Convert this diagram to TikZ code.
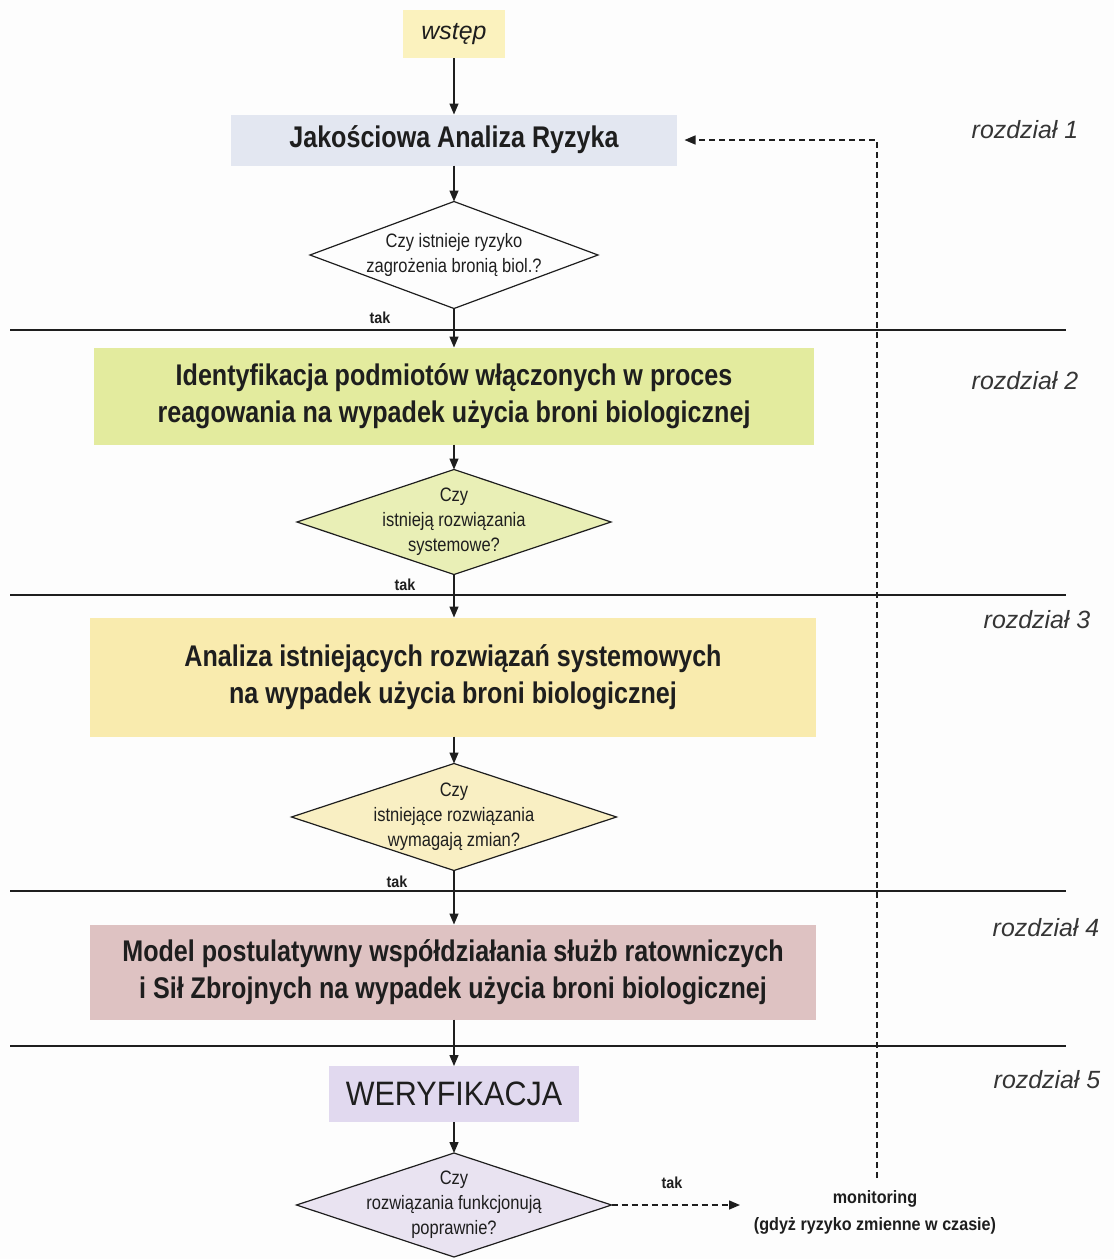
\documentclass[tikz,border=0pt]{standalone}
\usepackage{fontspec}
\setmainfont{Liberation Sans}
\newfontfamily\stagefont[FakeStretch=0.84]{Liberation Sans}
\newfontfamily\questfont[FakeStretch=0.85]{Liberation Sans}
\newfontfamily\notefont[FakeStretch=0.9]{Liberation Sans}
\usetikzlibrary{shapes.geometric,arrows.meta}

\definecolor{ink}{HTML}{1E1E1E}
\definecolor{paper}{HTML}{FDFDFD}
\definecolor{wstepfill}{HTML}{FBF2BE}
\definecolor{jakfill}{HTML}{E3E7F1}
\definecolor{greenfill}{HTML}{E3EB9E}
\definecolor{qgreen}{HTML}{E9EFB6}
\definecolor{yellowfill}{HTML}{F9EBAE}
\definecolor{qyellow}{HTML}{F9EFC3}
\definecolor{pinkfill}{HTML}{DEC2C2}
\definecolor{lavfill}{HTML}{E1D9EF}
\definecolor{qlav}{HTML}{E9E3F1}

\begin{document}
\begin{tikzpicture}[x=1bp,y=-1bp,
  stagebox/.style={inner sep=0pt, outer sep=0pt, text=ink, align=center,
    font=\stagefont\bfseries\fontsize{30}{37}\selectfont},
  question/.style={diamond, draw=ink, line width=1.2bp, inner sep=0pt, outer sep=0pt},
  questtext/.style={inner sep=0pt, text=ink, align=center,
    font=\questfont\fontsize{19.5}{25}\selectfont},
  tag/.style={inner sep=0pt, text=ink, font=\notefont\bfseries\fontsize{16}{20}\selectfont},
  chapter/.style={inner sep=0pt, text=ink!90, font=\itshape\fontsize{25}{30}\selectfont},
  flow/.style={draw=ink, line width=1.4bp, -{Triangle[length=11bp,width=9bp]}},
  loopback/.style={flow, dash pattern=on 6bp off 4bp},
  divider/.style={draw=ink, line width=1.5bp}
]
\fill[paper] (0,0) rectangle (1114,1259);
\useasboundingbox (0,0) rectangle (1114,1259);

% chapter dividers
\draw[divider] (10,330) -- (1066,330);
\draw[divider] (10,595) -- (1066,595);
\draw[divider] (10,891) -- (1066,891);
\draw[divider] (10,1046) -- (1066,1046);

% chapter labels
\node[chapter] (ch1) at (1025,130) {rozdział 1};
\node[chapter] (ch2) at (1025,381) {rozdział 2};
\node[chapter] (ch3) at (1037,620) {rozdział 3};
\node[chapter] (ch4) at (1046,928) {rozdział 4};
\node[chapter] (ch5) at (1047,1080) {rozdział 5};

% process stages, all on the same vertical axis
\node[inner sep=0pt, outer sep=0pt, fill=wstepfill, minimum width=102bp, minimum height=48bp,
  text=ink, font=\itshape\fontsize{25}{30}\selectfont] (wstep) at (454,34) {wstęp};
\node[stagebox, fill=jakfill, minimum width=445bp, minimum height=51bp] (jak) at (454,140)
  {Jakościowa Analiza Ryzyka};
\node[question, minimum width=288bp, minimum height=107bp,
  label={[questtext]center:{Czy istnieje ryzyko\\zagrożenia bronią biol.?}}] (q1) at (454,255) {};
\node[stagebox, fill=greenfill, minimum width=720bp, minimum height=97bp] (ident) at (454,396)
  {Identyfikacja podmiotów włączonych w proces\\reagowania na wypadek użycia broni biologicznej};
\node[question, fill=qgreen, minimum width=314bp, minimum height=105bp,
  label={[questtext]center:{Czy\\istnieją rozwiązania\\systemowe?}}] (q2) at (454,522) {};
\node[stagebox, fill=yellowfill, minimum width=726bp, minimum height=119bp] (anal) at (453,677)
  {Analiza istniejących rozwiązań systemowych\\na wypadek użycia broni biologicznej};
\node[question, fill=qyellow, minimum width=325bp, minimum height=107bp,
  label={[questtext]center:{Czy\\istniejące rozwiązania\\wymagają zmian?}}] (q3) at (454,817) {};
\node[stagebox, fill=pinkfill, minimum width=726bp, minimum height=95bp] (model) at (453,972)
  {Model postulatywny współdziałania służb ratowniczych\\i Sił Zbrojnych na wypadek użycia broni biologicznej};
\node[inner sep=0pt, outer sep=0pt, fill=lavfill, minimum width=250bp, minimum height=56bp,
  text=ink, font=\notefont\fontsize{34}{40}\selectfont] (weryf) at (454,1094) {WERYFIKACJA};
\node[question, fill=qlav, minimum width=315bp, minimum height=104bp,
  label={[questtext]center:{Czy\\rozwiązania funkcjonują\\poprawnie?}}] (q4) at (454,1205) {};

% answer labels
\node[tag] (tak1) at (380,318) {tak};
\node[tag] (tak2) at (405,585) {tak};
\node[tag] (tak3) at (397,882) {tak};
\node[tag] (tak4) at (672,1183) {tak};
\node[tag, align=center, font=\notefont\bfseries\fontsize{18}{27}\selectfont] (mon) at (875,1212)
  {monitoring\\(gdyż ryzyko zmienne w czasie)};

% main flow
\draw[flow] (wstep) -- (jak);
\draw[flow] (jak) -- (q1);
\draw[flow] (q1) -- (q1.south |- ident.north);
\draw[flow] (q1.south |- ident.south) -- (q2);
\draw[flow] (q2) -- (q2.south |- anal.north);
\draw[flow] (q2.south |- anal.south) -- (q3);
\draw[flow] (q3) -- (q3.south |- model.north);
\draw[flow] (q3.south |- model.south) -- (weryf);
\draw[flow] (weryf) -- (q4);

% monitoring loop
\coordinate (montip) at (740,1205);
\coordinate (loopstart) at (877,1178);
\draw[loopback] (q4.east) -- (montip);
\draw[loopback, shorten >=8bp] (loopstart) |- (jak.east);
\end{tikzpicture}
\end{document}
